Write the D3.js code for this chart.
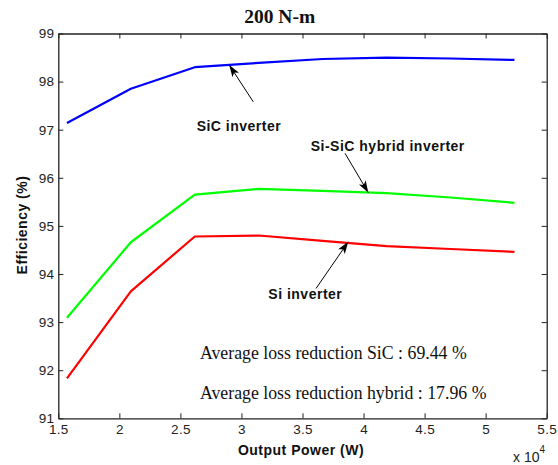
<!DOCTYPE html>
<html>
<head>
<meta charset="utf-8">
<script src="https://cdn.jsdelivr.net/npm/d3@7"></script>
<style>
  html, body { margin: 0; padding: 0; background: #fff; }
  svg { display: block; }
  .tick text { font-family: "Liberation Sans", Arial, sans-serif; font-size: 13.5px; letter-spacing: 0.3px; fill: #222; }
  .lbl { font-family: "Liberation Sans", Arial, sans-serif; font-weight: bold; font-size: 14px; letter-spacing: 0.5px; fill: #111; }
  .note { font-family: "Liberation Serif", "Times New Roman", serif; font-size: 17.8px; fill: #111; }
</style>
</head>
<body>
<script>
// Output power in units of 10^4 W (constant 200 N-m torque)
const power = [1.571, 2.094, 2.618, 3.142, 3.665, 4.189, 4.712, 5.236];

// Efficiency (%) of each inverter
const sicEff    = [97.14, 97.85, 98.30, 98.39, 98.47, 98.50, 98.48, 98.45];
const hybridEff = [93.09, 94.66, 95.65, 95.77, 95.73, 95.68, 95.59, 95.48];
const siEff     = [91.83, 93.64, 94.78, 94.80, 94.69, 94.58, 94.52, 94.46];

const xTicks = [1.5, 2, 2.5, 3, 3.5, 4, 4.5, 5, 5.5];
const yTicks = [91, 92, 93, 94, 95, 96, 97, 98, 99];

const seriesNames  = ["SiC inverter", "Si-SiC hybrid inverter", "Si inverter"];
const seriesColors = ["#0000ff", "#00ff00", "#ff0000"];

// Callout labels with arrows, in data units: [label x, label y, tail x, tail y, tip x, tip y]
const callouts = [
  { text: "SiC inverter",           anchor: "start", at: [2.633, 96.98, 3.097, 97.58, 2.900, 98.345] },
  { text: "Si-SiC hybrid inverter", anchor: "start", at: [3.567, 96.56, 3.848, 96.51, 4.039, 95.69] },
  { text: "Si inverter",            anchor: "end",   at: [3.826, 93.47, 3.611, 93.70, 3.875, 94.67] }
];

const notes = [
  { text: "Average loss reduction SiC : 69.44 %",    x: 2.66, y: 92.23 },
  { text: "Average loss reduction hybrid : 17.96 %", x: 2.66, y: 91.40 }
];

const W = 558, H = 465;
const m = { left: 58.3, right: 558 - 546.7, top: 33.5, bottom: 465 - 418.3 };

const svg = d3.select("body").append("svg").attr("width", W).attr("height", H);

const x = d3.scaleLinear().domain([1.5, 5.5]).range([m.left, W - m.right]);
const y = d3.scaleLinear().domain([91, 99]).range([H - m.bottom, m.top]);

// Arrow head marker
svg.append("defs").append("marker")
  .attr("id", "head")
  .attr("viewBox", "0 0 12 8")
  .attr("refX", 12).attr("refY", 4)
  .attr("markerWidth", 12).attr("markerHeight", 8)
  .attr("markerUnits", "userSpaceOnUse")
  .attr("orient", "auto")
  .append("path").attr("d", "M0,0 L12,4 L0,8 L3,4 Z").attr("fill", "#000");

// Series lines
const line = d3.line().x((d, i) => x(power[i])).y(d => y(d));
[sicEff, hybridEff, siEff].forEach((vals, k) => {
  svg.append("path")
    .datum(vals)
    .attr("d", line)
    .attr("fill", "none")
    .attr("stroke", seriesColors[k])
    .attr("stroke-width", 2.2)
    .attr("stroke-linejoin", "round");
});

// Axes with inward ticks on all four sides
const axisColor = "#222";
function styleAxis(g) {
  g.select(".domain").attr("stroke", axisColor).attr("stroke-width", 1.3);
  g.selectAll(".tick line").attr("stroke", axisColor).attr("stroke-width", 1);
}
svg.append("g").attr("transform", `translate(0,${H - m.bottom})`)
  .call(d3.axisBottom(x).tickValues(xTicks).tickFormat(d3.format("")).tickSize(-5).tickSizeOuter(0).tickPadding(6.5))
  .call(styleAxis);
svg.append("g").attr("transform", `translate(0,${m.top})`)
  .call(d3.axisTop(x).tickValues(xTicks).tickFormat("").tickSize(-5).tickSizeOuter(0))
  .call(styleAxis);
svg.append("g").attr("transform", `translate(${m.left},0)`)
  .call(d3.axisLeft(y).tickValues(yTicks).tickFormat(d3.format("d")).tickSize(-5).tickSizeOuter(0).tickPadding(4))
  .call(styleAxis);
svg.append("g").attr("transform", `translate(${W - m.right},0)`)
  .call(d3.axisRight(y).tickValues(yTicks).tickFormat("").tickSize(-5).tickSizeOuter(0))
  .call(styleAxis);

// Callouts
callouts.forEach((c, k) => {
  const [lx, ly, tx, ty, px, py] = c.at;
  svg.append("line")
    .attr("x1", x(tx)).attr("y1", y(ty))
    .attr("x2", x(px)).attr("y2", y(py))
    .attr("stroke", "#000").attr("stroke-width", 1)
    .attr("marker-end", "url(#head)");
  svg.append("text").attr("class", "lbl")
    .attr("x", x(lx)).attr("y", y(ly))
    .attr("text-anchor", c.anchor)
    .text(c.text);
});

// Summary notes
notes.forEach(n => {
  svg.append("text").attr("class", "note")
    .attr("x", x(n.x)).attr("y", y(n.y))
    .text(n.text);
});

// Title
svg.append("text")
  .attr("x", 279.7).attr("y", 22.7)
  .attr("text-anchor", "middle")
  .style("font-family", "\"Liberation Serif\", \"Times New Roman\", serif")
  .style("font-weight", "bold").style("font-size", "19.5px").attr("fill", "#111")
  .text("200 N-m");

// Axis titles
svg.append("text").attr("class", "lbl")
  .attr("x", (m.left + W - m.right) / 2 - 1.5).attr("y", 455)
  .attr("text-anchor", "middle")
  .text("Output Power (W)");
svg.append("text").attr("class", "lbl")
  .attr("transform", `translate(26.5,${225}) rotate(-90)`)
  .attr("text-anchor", "middle")
  .text("Efficiency (%)");

// Exponent multiplier for the x axis
const mult = svg.append("text")
  .attr("x", 513).attr("y", 462)
  .style("font-family", "\"Liberation Sans\", Arial, sans-serif")
  .style("font-size", "14px").attr("fill", "#222");
mult.append("tspan").text("x 10");
mult.append("tspan").attr("dy", -9).style("font-size", "10px").text("4");
</script>
</body>
</html>
